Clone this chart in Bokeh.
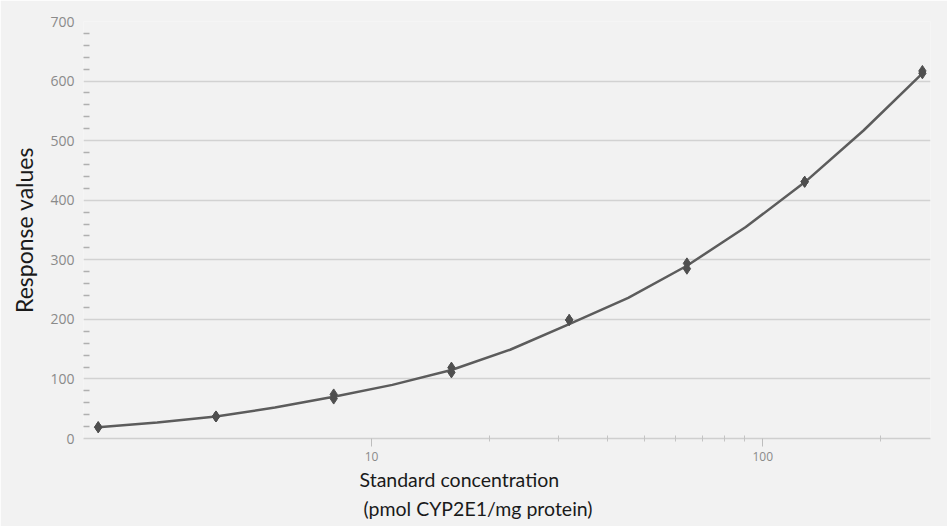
from bokeh.plotting import figure
from bokeh.models import FixedTicker, Range1d, Title, NumeralTickFormatter
from bokeh.embed import file_html
from bokeh.resources import INLINE

# ---- data ----
concentration = [2, 4, 8, 16, 32, 64, 128, 256]
response_rep1 = [19, 37, 74, 119, 199, 294, 431, 617]
response_rep2 = [19, 37, 67, 111, 199, 285, 431, 613]
# fitted curve as drawn in the reference
fit_concentration = [2, 2.83, 4, 5.66, 8, 11.3, 16, 22.6, 32, 45.3, 64, 90.5, 128, 181, 256]
fit_response = [19, 27, 37, 52, 70, 90, 115, 149, 192, 236, 290, 355, 430, 517, 613]
y_major_ticks = [0, 100, 200, 300, 400, 500, 600, 700]
y_minor_ticks = [v for v in range(0, 701, 20) if v % 100 != 0]
x_major_ticks = [10, 100]
x_minor_ticks = [20, 30, 40, 50, 60, 70, 80, 90, 200]
x_label_line1 = "Standard concentration"
x_label_line2 = "(pmol CYP2E1/mg protein)"
y_label = "Response values"

BG = "#f2f2f2"
X_MIN, X_MAX = 1.834, 268.5
Y_MIN, Y_MAX = 0, 700

p = figure(width=947, height=526, x_axis_type="log",
           x_range=Range1d(X_MIN, X_MAX), y_range=Range1d(Y_MIN, Y_MAX),
           output_backend="svg", toolbar_location=None,
           background_fill_color=BG, border_fill_color=BG,
           min_border_left=83, min_border_right=17, min_border_top=21, min_border_bottom=88)
p.outline_line_color = None

# grid
p.xgrid.visible = False
p.ygrid.ticker = FixedTicker(ticks=y_major_ticks)
p.ygrid.grid_line_color = "#d2d2d2"
p.ygrid.grid_line_width = 1.6

# y axis
p.yaxis.ticker = FixedTicker(ticks=y_major_ticks, minor_ticks=y_minor_ticks)
p.yaxis.axis_line_color = None
p.yaxis.major_tick_line_color = None
p.yaxis.minor_tick_in = 6
p.yaxis.minor_tick_out = 0
p.yaxis.minor_tick_line_color = "#b0b0b0"
p.yaxis.minor_tick_line_width = 1.3
p.yaxis.major_label_standoff = 3
p.yaxis.major_label_text_font = "Open Sans"
p.yaxis.major_label_text_font_size = "14px"
p.yaxis.major_label_text_color = "#8a8a8a"
p.yaxis.axis_label = y_label
p.yaxis.axis_label_text_font = "Lato"
p.yaxis.axis_label_text_font_size = "23px"
p.yaxis.axis_label_text_font_style = "normal"
p.yaxis.axis_label_text_color = "#1a1a1a"
p.yaxis.axis_label_standoff = 9

# x axis
p.xaxis.ticker = FixedTicker(ticks=x_major_ticks, minor_ticks=x_minor_ticks)
p.xaxis.formatter = NumeralTickFormatter(format="0")
p.xaxis.axis_line_color = "#cfcfcf"
p.xaxis.axis_line_width = 1.6
p.xaxis.major_tick_line_color = "#bdbdbd"
p.xaxis.major_tick_in = 0
p.xaxis.major_tick_out = 8
p.xaxis.minor_tick_line_color = "#c4c4c4"
p.xaxis.minor_tick_in = 3
p.xaxis.minor_tick_out = 3
p.xaxis.major_label_standoff = 5
p.xaxis.major_label_text_font = "Open Sans"
p.xaxis.major_label_text_font_size = "12px"
p.xaxis.major_label_text_color = "#8a8a8a"

# data
p.line(fit_concentration, fit_response, line_color="#5c5c5c", line_width=2.5)
p.scatter(concentration, response_rep1, marker="diamond", size=11,
          fill_color="#4f4f4f", line_color="#4f4f4f")
p.scatter(concentration, response_rep2, marker="diamond", size=11,
          fill_color="#4f4f4f", line_color="#4f4f4f")

# x axis label: two left-aligned lines below the axis
for txt, off, so in [(x_label_line1, 276, 4), (x_label_line2, 280, 4)]:
    p.add_layout(Title(text=txt, align="left", offset=off, standoff=so,
                       text_font="Lato", text_font_size="19.5px",
                       text_font_style="normal", text_color="#1a1a1a"), "below")

open("out.html", "w").write(file_html(p, INLINE))
